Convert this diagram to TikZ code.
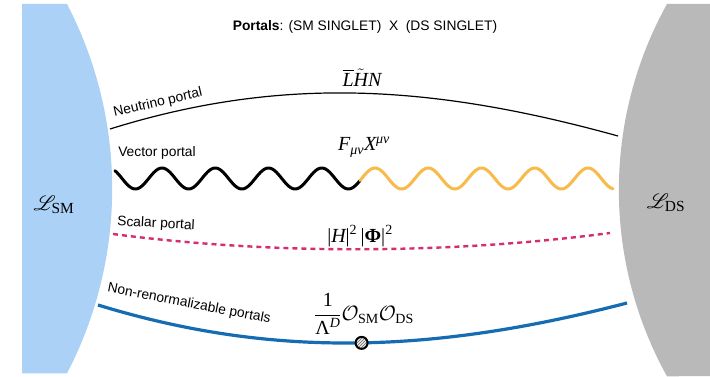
\documentclass[tikz,border=0pt]{standalone}
\usepackage{fontspec}
\usepackage{amsmath}
\usepackage{mathrsfs}
\newfontfamily\lblfont{Liberation Sans}
\newfontfamily\lsfont{Liberation Serif}
\newcommand{\tmi}[1]{\text{\lsfont\itshape #1}}
\newcommand{\tmr}[1]{\text{\lsfont\upshape #1}}
\usetikzlibrary{patterns}
\definecolor{smblue}{RGB}{171,210,246}
\definecolor{dsgray}{RGB}{185,185,185}
\definecolor{waveorange}{RGB}{248,186,72}
\definecolor{scalarpink}{RGB}{214,44,112}
\definecolor{nrblue}{RGB}{22,108,178}
\begin{document}
\begin{tikzpicture}[x=1pt,y=1pt,
  lbl/.style={font=\lblfont\fontsize{13.8}{16}\selectfont, inner sep=0pt},
  mth/.style={font=\fontsize{20}{24}\selectfont, inner sep=0pt},
  bigL/.style={font=\fontsize{22}{26}\selectfont, inner sep=0pt},
  neutrino/.style={draw=black, line width=1.2pt},
  scalarline/.style={draw=scalarpink, line width=2.4pt, dash pattern=on 5pt off 4pt},
  nrline/.style={draw=nrblue, line width=3.2pt},
  wavelineA/.style={draw=black, line width=3pt, line cap=round, line join=round},
  wavelineB/.style={draw=waveorange, line width=3pt, line cap=round, line join=round},
  blobdot/.style={circle, draw=black, line width=2pt, minimum size=12pt, inner sep=0pt,
     preaction={fill=gray!15}, pattern=north east lines, pattern color=gray!80!black}]
\useasboundingbox (0,0) rectangle (710,376);
\fill[white] (0,0) rectangle (710,376);
% sectors
\fill[smblue] (22,372) -- (67,372) arc[start angle=27.5, end angle=-27.5, radius=400] -- (22,2.6) -- cycle;
\fill[dsgray] (710,372) -- (667,372) arc[start angle=151, end angle=209, radius=384] -- (710,0) -- cycle;
\node[bigL] (Lsm) at (54,171) {$\mathscr{L}_{\tmr{SM}}$};
\node[bigL] (Lds) at (666,173) {$\mathscr{L}_{\tmr{DS}}$};
% title
\node[lbl] (title) at (365,349) {\textbf{Portals}: (SM SINGLET)\ \ X\ \ (DS SINGLET)};
% neutrino portal
\coordinate (nuL) at (110,247);
\coordinate (nuR) at (618,240);
\draw[neutrino] (nuL) .. controls (280,300) and (430,292) .. (nuR);
\node[lbl, rotate=13] (nulbl) at (158,273) {Neutrino portal};
\node[mth] (nuop) at (362,298) {$\overline{\tmi{L}}\tilde{\tmi{H}}\tmi{N}$};
% vector portal
\draw[wavelineA] plot[domain=115:360, samples=160, smooth] (\x,{197.5+10.5*cos(6.76056*(\x-162))});
\draw[wavelineB] plot[domain=360:613, samples=160, smooth] (\x,{197.5+10.5*cos(6.76056*(\x-162))});
\node[lbl] (veclbl) at (157,223) {Vector portal};
\node[mth] (vecop) at (364,229) {$\tmi{F}_{\tmi{μν}}\tmi{X}^{\tmi{μν}}$};
% scalar portal
\coordinate (scL) at (113,142);
\coordinate (scR) at (610,143);
\draw[scalarline] (scL) .. controls (273,121) and (450,122) .. (scR);
\node[lbl, rotate=-3] (sclbl) at (156,152) {Scalar portal};
\node[mth] (scop) at (360,140) {$\tmr{|}\tmi{H}\tmr{|}^{\tmr{2}}\,\tmr{|\textbf{Φ}|}^{\tmr{2}}$};
% non-renormalizable portals
\coordinate (nrL) at (98,71);
\coordinate (nrR) at (627,73);
\draw[nrline] (nrL) .. controls (268,19) and (427,21) .. node[blobdot, pos=0.52] (blob) {} (nrR);
\node[lbl, rotate=-11] (nrlbl) at (189,72) {Non-renormalizable portals};
\node[mth] (nrop) at (364,62) {$\dfrac{\tmr{1}}{\tmr{Λ}^{\tmi{D}}}\mathcal{O}_{\tmr{SM}}\mathcal{O}_{\tmr{DS}}$};
\end{tikzpicture}
\end{document}
